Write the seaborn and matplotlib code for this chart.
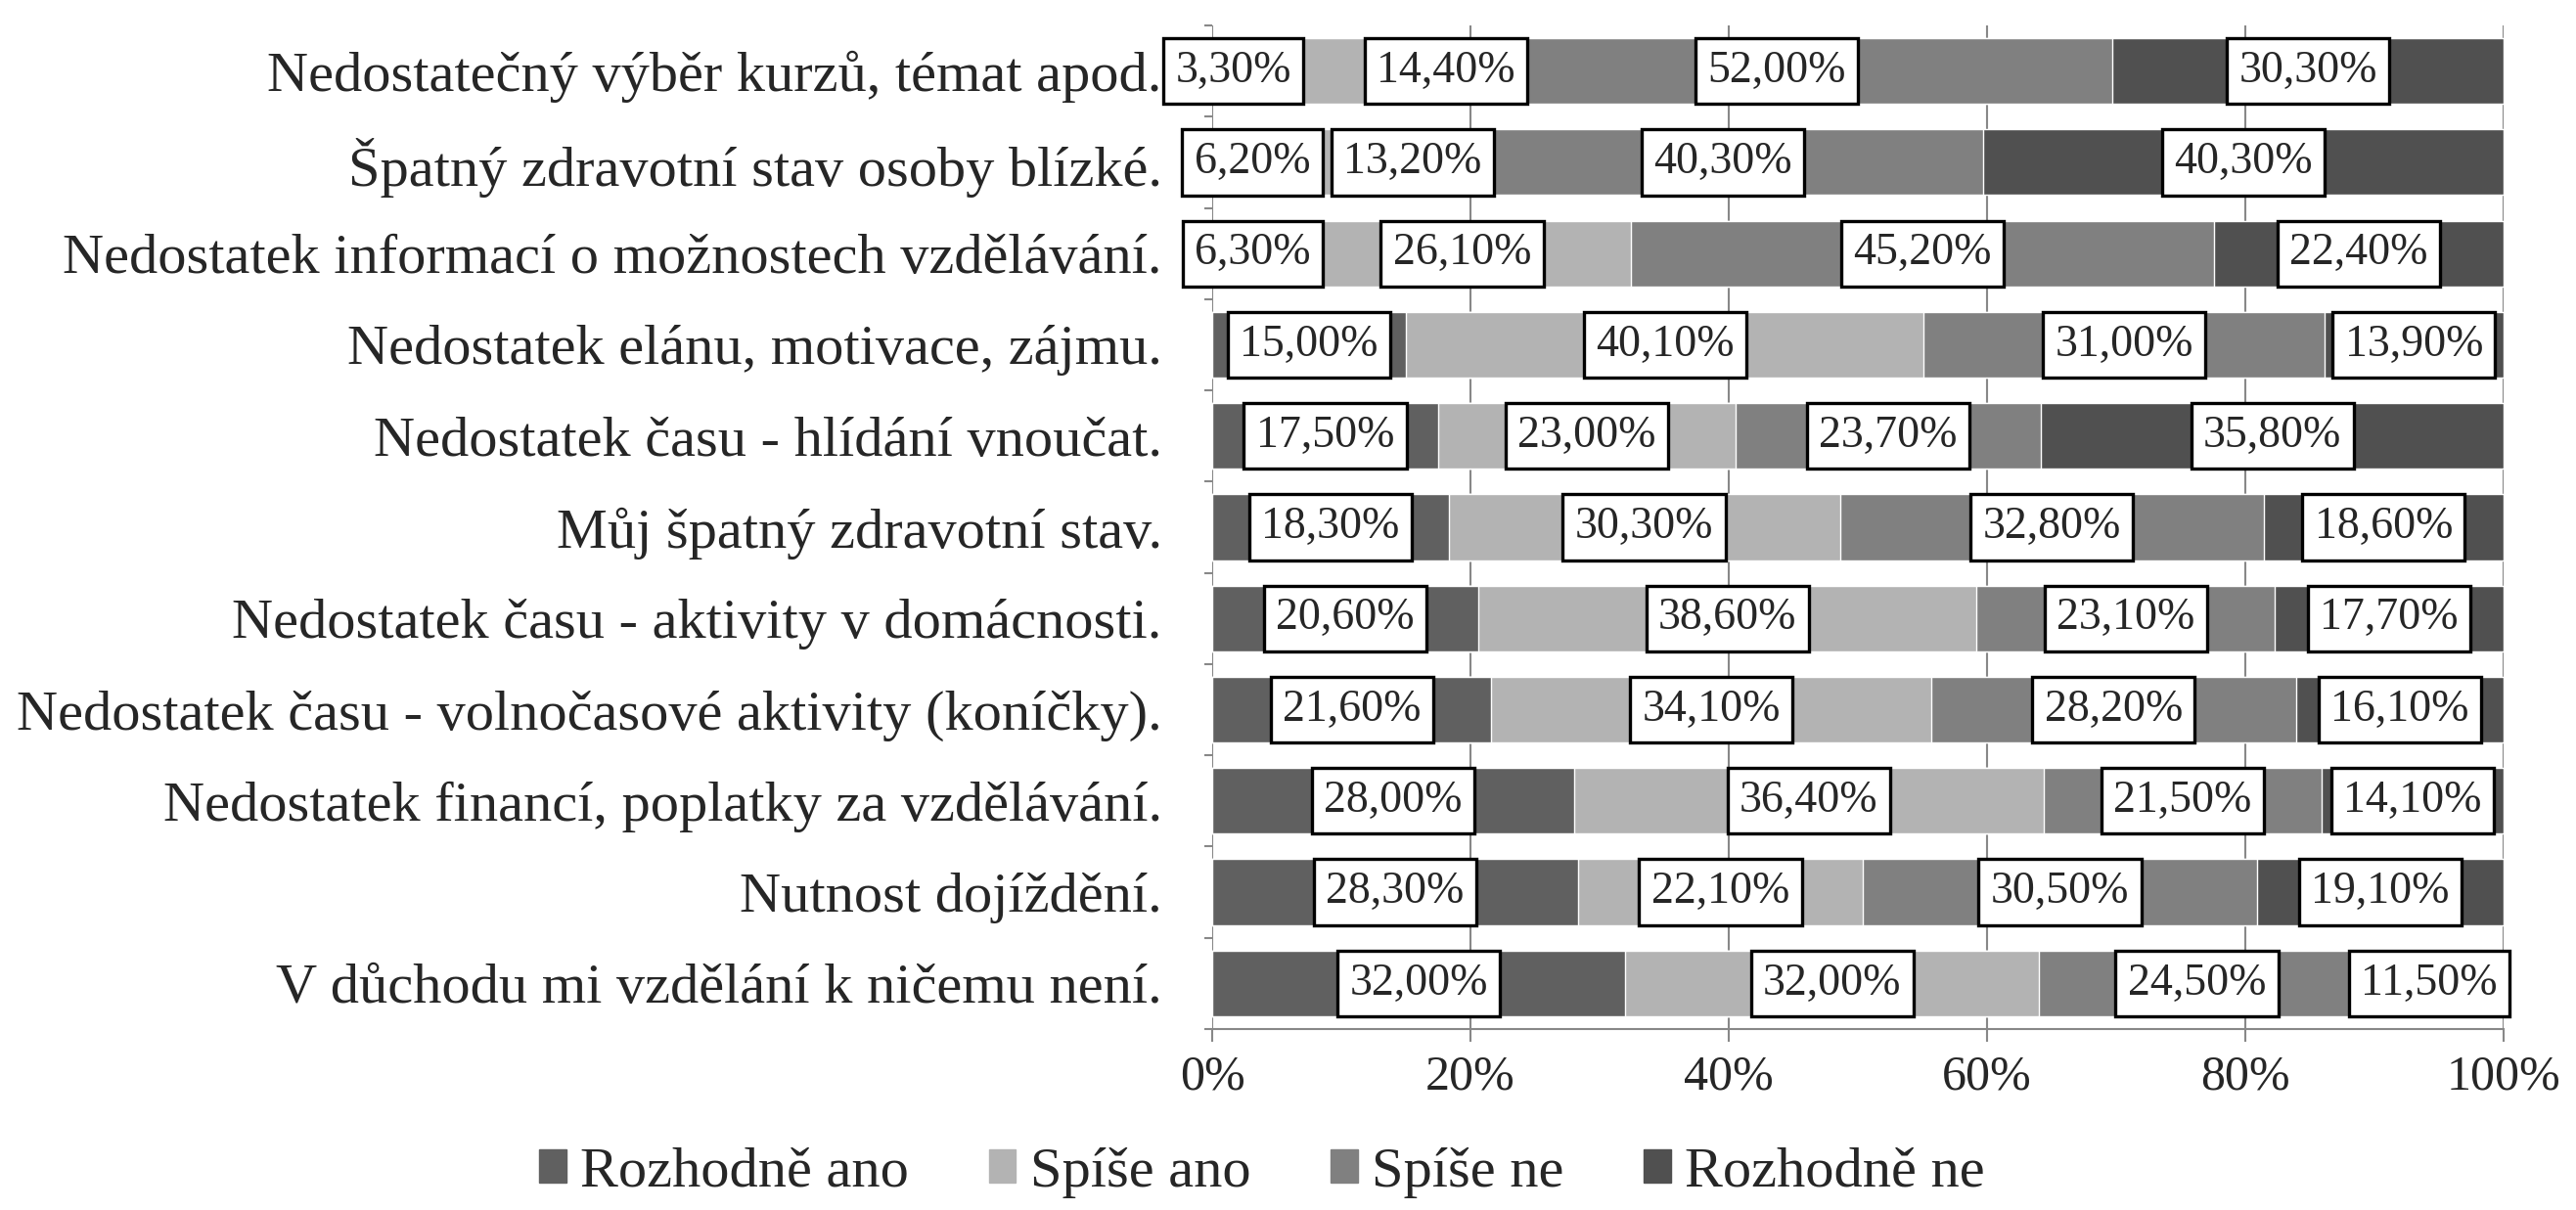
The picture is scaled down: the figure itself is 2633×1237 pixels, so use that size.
import numpy as np
import pandas as pd
import matplotlib
matplotlib.use("Agg")
import matplotlib.pyplot as plt
import matplotlib.patches as mpatches
from matplotlib.ticker import FixedLocator
import seaborn as sns

sns.set_theme(style="white")
plt.rcParams["font.family"] = ["Liberation Serif", "DejaVu Serif"]

categories = [
    "Nedostatečný výběr kurzů, témat apod.",
    "Špatný zdravotní stav osoby blízké.",
    "Nedostatek informací o možnostech vzdělávání.",
    "Nedostatek elánu, motivace, zájmu.",
    "Nedostatek času - hlídání vnoučat.",
    "Můj špatný zdravotní stav.",
    "Nedostatek času - aktivity v domácnosti.",
    "Nedostatek času - volnočasové aktivity (koníčky).",
    "Nedostatek financí, poplatky za vzdělávání.",
    "Nutnost dojíždění.",
    "V důchodu mi vzdělání k ničemu není.",
]
answers = ["Rozhodně ano", "Spíše ano", "Spíše ne", "Rozhodně ne"]

rozhodne_ano = [3.3, 6.2, 6.3, 15.0, 17.5, 18.3, 20.6, 21.6, 28.0, 28.3, 32.0]
spise_ano = [14.4, 13.2, 26.1, 40.1, 23.0, 30.3, 38.6, 34.1, 36.4, 22.1, 32.0]
spise_ne = [52.0, 40.3, 45.2, 31.0, 23.7, 32.8, 23.1, 28.2, 21.5, 30.5, 24.5]
rozhodne_ne = [30.3, 40.3, 22.4, 13.9, 35.8, 18.6, 17.7, 16.1, 14.1, 19.1, 11.5]

colors = ["#606060", "#b3b3b3", "#808080", "#505050"]

df = pd.DataFrame({
    "Kategorie": categories,
    answers[0]: rozhodne_ano,
    answers[1]: spise_ano,
    answers[2]: spise_ne,
    answers[3]: rozhodne_ne,
})
cum = df[answers].cumsum(axis=1)
cum["Kategorie"] = categories

fig = plt.figure(figsize=(26.33, 12.37), dpi=100)
ax = fig.add_axes([0.4706, 0.1496, 0.5013, 0.8294])

# stacked bars: draw cumulative totals from the longest to the shortest
for ans, col in reversed(list(zip(answers, colors))):
    sns.barplot(data=cum, x=ans, y="Kategorie", order=categories, orient="h",
                color=col, width=0.72, saturation=1, ax=ax, zorder=2)

# labels that were moved aside in the original so they don't collide
nudge = {(0, 1): 7.6, (1, 1): 2.7}

for i, cat in enumerate(categories):
    start = 0
    for j, ans in enumerate(answers):
        v = df.loc[i, ans]
        txt = f"{v:.2f}%".replace(".", ",")
        ax.text(start + v / 2 + nudge.get((i, j), 0), i, txt,
                ha="center", va="center", fontsize=33, zorder=5,
                bbox=dict(boxstyle="square,pad=0.27", fc="white", ec="black", lw=2.4))
        start += v

ax.set_xlim(0, 100)
ax.set_ylim(len(categories) - 0.5, -0.5)
ax.set_xticks(np.arange(0, 101, 20))
ax.set_xticklabels([f"{t}%" for t in range(0, 101, 20)], fontsize=36)
ax.set_xlabel("")
ax.set_ylabel("")
ax.tick_params(axis="y", labelsize=42, length=0, pad=37)
ax.yaxis.set_minor_locator(FixedLocator(np.arange(-0.5, len(categories), 1)))
ax.tick_params(axis="y", which="minor", left=True, length=6, width=1.5, color="#888888")
ax.tick_params(axis="x", bottom=True, length=9, width=1.5, color="#888888", pad=10)

ax.grid(axis="x", color="#888888", lw=1.5, zorder=0)
ax.set_axisbelow(True)
for s in ["top", "right", "left"]:
    ax.spines[s].set_visible(False)
ax.spines["bottom"].set_color("#888888")
ax.spines["bottom"].set_linewidth(1.5)

handles = [mpatches.Patch(color=c, label=a) for a, c in zip(answers, colors)]
fig.legend(handles=handles, loc="center", bbox_to_anchor=(0.49, 0.031), ncol=4,
           frameon=False, fontsize=42, handlelength=0.47, handleheight=0.5,
           handletextpad=0.25, columnspacing=1.4)

fig.savefig("out.png", dpi=100)
